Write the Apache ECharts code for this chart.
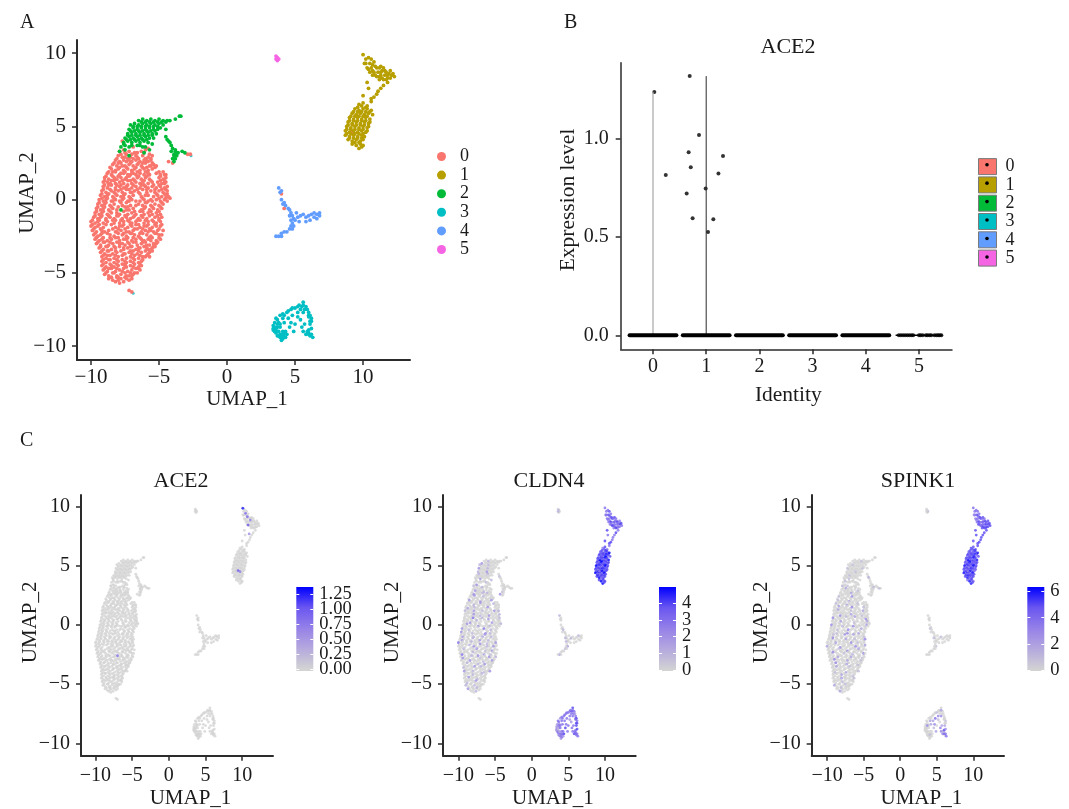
<!DOCTYPE html>
<html><head><meta charset="utf-8">
<style>html,body{margin:0;padding:0;background:#fff}#c{width:1069px;height:809px}</style>
<script src="https://cdn.jsdelivr.net/npm/echarts@6/dist/echarts.min.js"></script>
</head><body><div id="c"></div>
<script>
const clusterNames=['0','1','2','3','4','5'];
const clusterColors=['#F8766D','#B79F00','#00BA38','#00BFC4','#619CFF','#F564E3'];
const umapTicksX=[-10,-5,0,5,10];
const umapTicksY=[-10,-5,0,5,10];
const boxTicksX=[0,1,2,3,4,5];
const boxTicksY=[0,0.5,1];
// UMAP cells, x and y pairs in tenths
const cluster0=[-79,33,-76,34,-72,33,-68,32,-63,33,-60,34,
-80,30,-77,29,-74,31,-71,29,-67,30,-65,28,-62,30,-58,29,-55,30,
-82,27,-79,26,-76,27,-73,28,-70,26,-67,27,-64,26,-61,27,-58,26,-56,27,
-84,24,-81,23,-78,25,-75,23,-72,24,-69,23,-66,24,-63,23,-60,25,-57,23,-54,24,-52,23,
-85,21,-82,20,-79,22,-76,20,-73,21,-70,20,-67,22,-64,20,-61,21,-58,20,-55,21,
-88,18,-85,17,-82,19,-79,17,-76,18,-73,17,-70,19,-67,17,-64,18,-61,17,-58,18,-52,18,-49,17,-46,17,
-90,15,-87,14,-84,16,-81,14,-78,15,-75,14,-72,16,-69,14,-66,15,-63,14,-60,15,-57,14,-50,15,-47,14,-45,15,
-91,12,-88,12,-85,13,-82,11,-79,12,-76,11,-73,13,-70,11,-67,12,-64,11,-61,13,-58,11,-55,12,-51,12,-48,11,-45,12,
-91,9,-88,8,-85,10,-82,8,-79,9,-76,8,-73,10,-70,8,-67,9,-64,8,-61,10,-58,8,-55,9,-52,8,-49,9,-46,8,-44,9,
-92,6,-89,5,-86,7,-83,5,-80,6,-77,5,-74,7,-71,5,-68,6,-65,5,-62,7,-59,5,-56,6,-53,5,-50,6,-47,5,-44,6,
-93,3,-90,2,-87,4,-84,2,-81,3,-78,2,-75,4,-72,2,-69,3,-63,2,-60,3,-54,2,-51,3,-48,2,-45,3,-43,2,-42,1,
-94,0,-91,-1,-88,1,-85,-1,-82,0,-79,-1,-76,1,-73,-1,-70,0,-64,-1,-61,0,-58,-1,-52,0,-49,-1,-46,0,-44,-1,
-95,-3,-92,-4,-89,-2,-86,-4,-83,-3,-77,-4,-74,-2,-71,-4,-65,-3,-62,-4,-59,-2,-56,-4,-53,-3,-50,-4,-47,-3,
-96,-6,-93,-7,-90,-5,-87,-7,-84,-6,-81,-7,-75,-5,-72,-7,-69,-6,-63,-7,-60,-5,-57,-7,-54,-6,-51,-7,-48,-6,
-97,-9,-94,-10,-91,-8,-88,-10,-85,-9,-79,-10,-76,-8,-73,-10,-70,-9,-67,-10,-64,-8,-61,-10,-58,-9,-55,-10,-52,-9,-49,-10,
-98,-12,-95,-13,-92,-11,-89,-13,-86,-12,-83,-13,-80,-11,-77,-13,-74,-12,-71,-13,-68,-11,-65,-13,-62,-12,-59,-13,-53,-12,-50,-13,-48,-12,
-100,-15,-97,-16,-94,-14,-91,-16,-88,-15,-82,-14,-79,-16,-76,-15,-73,-14,-70,-16,-67,-15,-64,-14,-61,-16,-58,-15,-55,-14,-52,-16,-49,-15,
-100,-18,-97,-19,-94,-17,-91,-19,-85,-17,-82,-19,-79,-18,-76,-17,-73,-19,-70,-18,-67,-17,-64,-19,-61,-18,-58,-17,-55,-19,-52,-18,-48,-17,
-99,-21,-96,-22,-93,-20,-90,-22,-84,-20,-81,-22,-78,-21,-75,-20,-72,-22,-69,-21,-66,-20,-63,-22,-60,-21,-57,-20,-54,-22,-51,-21,-47,-21,
-98,-24,-95,-25,-92,-23,-86,-24,-83,-25,-80,-23,-77,-24,-74,-25,-71,-23,-68,-24,-65,-25,-62,-23,-59,-24,-56,-25,-53,-23,-50,-24,-48,-24,
-97,-27,-94,-28,-91,-26,-88,-28,-85,-27,-82,-26,-79,-28,-76,-27,-73,-26,-70,-28,-67,-27,-64,-26,-61,-28,-58,-27,-55,-26,-52,-28,-49,-27,
-96,-30,-93,-31,-90,-29,-87,-31,-84,-30,-81,-29,-75,-31,-72,-30,-69,-29,-66,-31,-63,-30,-60,-29,-57,-31,-54,-30,-51,-29,
-94,-33,-91,-34,-88,-32,-85,-34,-82,-33,-79,-32,-76,-34,-73,-33,-70,-32,-67,-34,-64,-33,-61,-32,-58,-34,-55,-33,-53,-32,
-93,-36,-90,-37,-87,-35,-84,-37,-81,-36,-78,-35,-75,-37,-72,-36,-69,-35,-66,-37,-63,-36,-60,-35,-57,-36,-55,-35,
-92,-39,-89,-40,-86,-38,-83,-40,-80,-39,-77,-38,-74,-40,-71,-39,-68,-38,-65,-40,-62,-39,-59,-38,-57,-39,
-92,-42,-89,-43,-86,-41,-83,-43,-80,-42,-77,-41,-74,-43,-71,-42,-68,-41,-65,-43,-62,-41,
-92,-45,-89,-46,-86,-44,-83,-46,-80,-45,-77,-44,-74,-46,-71,-45,-68,-44,-65,-46,-63,-45,
-91,-48,-88,-49,-85,-47,-82,-49,-79,-48,-76,-47,-73,-49,-70,-48,-67,-47,-64,-48,
-90,-51,-87,-52,-84,-50,-81,-52,-78,-51,-75,-50,-72,-52,-69,-51,-66,-50,
-87,-54,-84,-55,-81,-53,-78,-54,-75,-53,-72,-55,-70,-54,
-82,-56,-79,-57,-76,-56,
-72,-62,-70,-63,-27,31,-29,31,-43,26,-40,25,-77,40,-69,36,-58,35,92,46,40,4,42,-6];
const cluster0More=[-78,31,-75,32,-70,31,-66,32,-61,32,-57,31,
-81,28,-75,29,-72,27,-69,28,-66,29,-60,28,-56,28,
-83,25,-80,25,-74,26,-71,25,-65,25,-62,25,-59,27,-55,25,
-86,22,-80,21,-77,23,-74,22,-68,21,-62,22,-59,22,-56,23,-53,22,
-87,19,-84,19,-78,18,-75,19,-69,18,-66,19,-60,19,-57,17,-50,19,-47,19,
-89,16,-83,15,-80,16,-74,15,-71,17,-65,16,-59,16,-49,16,-45,17,
-90,13,-86,11,-83,13,-77,13,-71,13,-68,13,-62,12,-56,13,-49,13,-46,13,
-90,10,-87,10,-81,10,-78,10,-74,9,-69,10,-63,10,-60,9,-54,10,-50,10,-46,11,
-91,7,-85,6,-82,7,-78,7,-72,7,-66,7,-59,7,-53,7,-48,7,-45,7,
-92,4,-88,3,-82,4,-76,3,-70,5,-64,4,-58,3,-52,4,-46,4,-44,4,
-92,1,-89,0,-83,1,-77,0,-71,1,-62,1,-56,0,-50,1,-45,1,
-94,-2,-90,-3,-84,-1,-78,-2,-72,-1,-67,-1,-60,-2,-55,-1,-48,-2,
-95,-5,-91,-6,-85,-5,-80,-5,-73,-5,-67,-4,-61,-6,-55,-5,-49,-5,
-96,-8,-92,-9,-86,-8,-81,-9,-74,-7,-68,-8,-62,-8,-56,-8,-50,-8,
-97,-11,-93,-12,-87,-11,-81,-11,-75,-11,-69,-12,-63,-11,-57,-11,-51,-11,
-99,-14,-95,-15,-89,-14,-84,-14,-78,-14,-72,-15,-66,-14,-60,-14,-54,-15,-50,-14,
-99,-17,-95,-18,-89,-17,-83,-16,-77,-18,-71,-17,-65,-17,-59,-18,-53,-17,-49,-18,
-98,-20,-92,-21,-87,-21,-80,-20,-74,-22,-68,-20,-62,-20,-56,-21,-50,-20,
-97,-23,-93,-24,-88,-23,-82,-22,-76,-23,-70,-23,-64,-23,-58,-22,-52,-23,
-96,-26,-92,-27,-86,-26,-80,-26,-74,-27,-69,-26,-63,-27,-57,-26,-50,-26,
-95,-29,-91,-29,-86,-29,-79,-30,-73,-29,-67,-29,-62,-29,-56,-28,-52,-30,
-93,-32,-89,-32,-83,-32,-77,-30,-71,-32,-65,-33,-59,-31,-54,-32,
-92,-35,-88,-35,-82,-35,-76,-33,-71,-35,-65,-35,-59,-33,-56,-34,
-91,-38,-88,-38,-82,-38,-76,-37,-70,-37,-64,-38,-58,-37,
-91,-41,-87,-41,-81,-41,-75,-42,-69,-40,-63,-42,-60,-39,
-91,-44,-85,-45,-81,-44,-75,-44,-69,-43,-64,-44,
-90,-47,-87,-47,-81,-47,-75,-45,-69,-46,-65,-47,
-89,-50,-83,-50,-77,-49,-71,-50,-68,-50,
-85,-53,-80,-53,-74,-52,-70,-52,-80,-55,-74,-54];
const cluster1=[100,99,102,96,104,97,101,93,105,93,108,94,103,90,106,90,109,91,112,90,105,87,108,87,111,87,114,88,117,87,107,85,110,84,113,85,116,85,119,86,121,85,123,84,112,82,115,82,118,83,120,83,
118,80,115,78,113,76,111,74,110,72,108,70,106,67,103,80,104,76,100,71,106,69,
97,65,100,66,103,64,94,62,97,61,100,62,103,62,106,61,92,59,95,58,98,59,101,58,104,59,107,58,90,56,93,55,96,56,99,55,102,56,105,55,
89,53,92,52,95,53,98,52,101,53,104,52,88,50,91,49,94,50,97,49,100,50,103,49,87,47,90,46,93,47,96,46,99,47,102,46,
87,44,90,43,93,44,96,43,99,44,101,43,89,41,92,40,95,41,98,40,100,41,92,38,95,37,98,38,100,37,97,35,99,36];
const cluster1More=[102,93,107,92,110,90,104,89,107,88,113,87,116,88,109,85,112,84,118,85,122,86,114,83,117,82,
96,63,99,64,102,63,105,60,93,60,96,60,99,60,102,60,91,57,94,57,97,57,100,57,103,57,90,54,93,54,96,54,99,54,102,54,105,53,89,51,92,51,95,51,98,51,101,51,104,50,88,48,91,48,94,48,97,48,100,48,103,47,88,45,91,45,94,45,97,45,100,45,90,42,93,42,96,42,99,42,94,39,97,39,113,91,115,90,120,88,106,96];
const cluster2=[-65,54,-62,55,-59,54,-56,55,-53,54,-50,55,-47,54,-44,54,-42,54,-38,55,-35,57,-34,57,
-71,51,-68,52,-65,51,-62,52,-59,51,-56,52,-53,51,-50,52,-47,51,
-72,48,-69,49,-66,48,-63,49,-60,48,-57,49,-54,48,-51,48,-49,49,
-73,45,-70,46,-67,45,-64,46,-61,45,-58,46,-55,45,-52,45,
-75,42,-72,43,-69,42,-66,43,-63,42,-60,43,-57,42,-54,42,
-76,39,-73,40,-70,39,-67,40,-64,39,-61,40,-58,39,-55,38,
-78,36,-75,37,-72,36,-66,37,-62,36,-60,36,-57,34,-79,33,-75,34,-72,30,-61,32,-78,-7,
-45,48,-45,43,-44,41,-43,40,-41,37,-40,35,-38,33,-39,31,-37,30,-40,28,-38,28,-36,32,-33,33,-31,32,-39,26,-42,39];
const cluster2More=[-63,53,-60,53,-57,53,-54,53,-51,53,-48,53,-45,53,-69,50,-66,50,-63,50,-60,50,-57,50,-54,50,-51,50,-71,47,-68,47,-65,47,-62,47,-59,47,-56,47,-53,47,-73,44,-70,44,-67,44,-64,44,-61,44,-58,44,-55,44,-74,41,-71,41,-68,41,-65,41,-62,41,-59,41,-76,38,-70,37,-64,37,-38,34,-39,30,-37,32,-41,33];
const cluster3=[56,-70,53,-72,50,-74,47,-75,44,-77,41,-78,39,-79,37,-82,35,-84,36,-81,34,-86,34,-89,36,-88,36,-91,38,-93,38,-90,40,-96,41,-93,43,-94,41,-90,43,-90,39,-87,
58,-73,60,-77,62,-81,61,-85,56,-77,52,-77,48,-79,45,-81,42,-84,46,-87,50,-85,54,-82,57,-85,
56,-90,58,-92,60,-92,62,-92,63,-94,60,-89,62,-88,55,-87,49,-90,44,-92,54,-75,59,-75,52,-80,47,-84,41,-81,
56,-72,60,-80,61,-83,39,-85,37,-85];
const cluster3More=[42,-79,38,-84,37,-87,35,-87,34,-88,35,-90,37,-90,39,-92,39,-94,41,-95,40,-92,42,-92,37,-93,45,-76,48,-74,52,-73,55,-73,57,-75,60,-79,61,-79,62,-83,60,-91,61,-93,59,-90];
const cluster4=[38,8,40,6,39,5,40,0,42,-2,41,-3,43,-4,45,-6,46,-7,47,-9,48,-11,46,-11,49,-13,50,-14,47,-14,48,-16,49,-18,47,-18,46,-20,48,-20,44,-22,42,-22,40,-23,38,-25,36,-25,40,-25,
52,-12,54,-11,56,-10,58,-12,60,-11,62,-10,64,-9,66,-10,68,-9,64,-12,66,-13,68,-11,61,-14,58,-15,53,-15,51,-9];
const cluster5=[36,98,37,97,37,95,38,96,36,96];
// Expression per cell, listed in the order of the cell arrays above
const cldn4Cluster0=[2,0,0,1,0,0,0,2,0,0,0,1,0,0,0,0,2,0,0,0,1,0,1,0,0,0,0,2,0,0,0,1,0,0,0,0,0,2,0,0,0,0,1,0,0,0,0,2,0,0,
0,1,0,0,2,0,0,0,0,1,0,0,0,2,0,0,1,0,0,0,0,0,2,0,0,0,0,1,0,0,0,2,0,0,0,1,0,0,0,0,2,0,1,0,0,0,0,2,0,0,
1,0,0,0,2,0,0,0,0,1,0,0,0,0,3,0,0,0,1,0,0,2,0,0,0,0,1,0,0,0,2,0,0,1,0,0,0,0,2,0,0,0,0,1,0,0,2,0,0,0,
0,2,0,0,0,1,0,0,0,0,2,0,0,1,0,0,0,0,3,0,0,1,0,0,0,2,0,0,0,0,1,0,0,0,2,0,1,0,0,0,0,2,0,0,0,1,0,0,0,2,
2,0,0,1,0,0,0,2,0,0,0,0,1,0,0,2,0,0,0,1,0,0,0,3,0,0,0,0,1,0,0,0,2,0,0,1,0,0,0,2,0,0,0,0,1,0,2,0,0,0,
0,0,1,0,0,2,0,0,0,1,0,0,0,0,2,0,0,0,1,0,0,2,0,0,0,3,0,0,0,1,0,0,0,0,2,0,0,1,0,0,0,0,2,0,0,0,1,0,0,2,
1,0,0,0,2,0,0,1,0,0,0,0,2,0,0,0,0,1,0,0,0,2,0,0,0,1,0,0,0,0,1,0,0,2,0,0,0,0,1,0,0,0,0,2,0,0,1,0,0,0,
0,0,2,0,0,0,1,0,0,0,0,1,0,0,2,0,0,0,0,1,0,0,0,1,0,0,0,0,2,0,0,0,1,0,0,0,0,0,1,0,0,0,2,0,0,0,0,1,0,0,
0,1,0,0,0,0,2,0,0,0,1,0,0,0,0,1,0,0,0,0,2,0,0,0,0,1,0,0,0,0,1,0,0,2,0,0,0,0,1,0,0,0,0,1,0,0,0,0,2,0,
0,0,1,0,0,0,0,2,0,0,0,0,1,0,0,0,1,0,0,0,0,2,0,0,0,1,0,0,0,0];
const cldn4Cluster1=[3,3,3,3,4,3,3,3,4,3,3,4,3,3,4,3,4,3,3,3,4,3,3,4,3,3,3,4,3,3,3,
4,3,4,3,4,4,3,4,3,4,4,
4,4,5,4,4,4,5,4,4,4,5,4,4,4,5,4,4,5,4,4,4,5,4,4,4,5,4,4,4,4,5,4,4,5,4,4,4,5,4,4,5,4,4,4,4,5,4,4,5,4,3,4,4,4,3,4,4,3,3,3,4,3];
const cldn4Cluster1More=[3,3,4,3,3,4,3,3,4,3,4,3,3,4,4,5,4,4,4,4,5,4,4,4,5,4,4,4,5,4,4,4,4,5,4,4,5,4,4,4,4,5,4,4,4,5,4,4,4,5,4,4,4,3,4,4,3,3,4];
const cldn4Cluster2=[0,0,1,0,0,0,0,0,0,0,0,0,1,2,0,0,1,0,0,0,0,2,0,0,0,1,0,0,0,0,1,0,0,0,2,0,0,0,0,1,0,0,0,1,0,0,0,0,2,0,0,0,0,1,0,0,0,0,1,0,0,0,2,0,0,0,0,0,1,0,0,0,0,0,0,1,0,0,0,0,0,0,0,0];
const cldn4Cluster3=[4,3,3,3,3,3,2,3,2,3,2,2,1,3,2,1,2,3,2,3,3,3,3,3,
3,4,3,3,3,3,3,4,3,2,3,3,4,3,3,3,3,4,3,3,4,3,2,2,3,3,3,3,4,3,3,3,3,2,2];
const cldn4Cluster3More=[3,2,2,1,2,2,3,3,3,3,3,2,3,3,3,3,4,3,3,4,3,3,3,3,3];
const cldn4Cluster4=[1,0,0,0,0,0,1,0,0,0,0,1,0,0,1,0,2,0,1,0,0,0,0,2,0,0,0,1,0,0,0,0,1,0,0,0,0,0];
const cldn4Cluster5=[0,1,0,0,1];
const spink1Cluster0=[0,0,1,0,0,0,0,0,2,0,0,0,0,1,0,0,0,0,0,0,2,0,0,0,0,1,0,0,0,0,0,3,0,0,0,0,0,1,0,0,0,0,2,0,0,0,0,0,1,0,
0,0,0,2,0,0,0,0,1,0,0,0,0,0,2,0,0,0,0,0,3,0,0,0,1,0,0,0,0,2,0,0,0,0,0,1,0,0,0,0,2,0,0,0,0,0,3,0,0,0,
0,2,0,0,0,0,1,0,0,0,3,0,0,0,0,0,1,0,0,0,2,0,0,0,0,3,0,0,0,0,0,2,0,0,0,0,1,0,0,0,0,2,0,0,3,0,0,0,0,1,
0,0,0,3,0,0,0,0,2,0,0,0,0,1,0,0,0,3,0,0,0,0,2,0,0,0,0,0,1,0,0,0,3,0,0,0,2,0,0,0,0,0,1,0,0,0,3,0,0,0,
2,0,0,0,0,1,0,0,3,0,0,0,0,0,2,0,0,0,1,0,0,0,3,0,0,0,0,2,0,0,0,0,0,3,0,0,1,0,0,0,2,0,0,0,0,3,0,0,0,0,
0,0,3,0,0,0,2,0,0,0,0,1,0,0,0,3,0,0,0,0,2,0,0,0,0,0,3,0,0,0,1,0,0,0,2,0,0,0,0,3,0,0,0,0,0,2,0,0,0,0,
0,2,0,0,0,0,1,0,0,0,3,0,0,0,0,2,0,0,0,0,0,1,0,0,0,3,0,0,0,0,2,0,0,0,0,1,0,0,0,0,2,0,0,0,0,0,1,0,0,0,
0,0,0,1,0,0,0,0,2,0,0,0,0,0,1,0,0,0,0,2,0,0,0,0,1,0,0,0,0,0,2,0,0,0,0,0,1,0,0,0,0,1,0,0,0,0,0,2,0,0,
0,0,1,0,0,0,0,0,1,0,0,0,0,2,0,0,0,0,0,1,0,0,0,0,0,1,0,0,0,0,2,0,0,0,0,1,0,0,0,0,0,1,0,0,0,0,0,1,0,0,
0,0,0,0,1,0,0,0,0,0,2,0,0,0,0,0,0,1,0,0,0,0,0,1,0,0,0,0,0,0];
const spink1Cluster1=[4,4,4,3,5,4,3,4,5,4,4,5,4,4,5,5,4,4,5,4,5,5,5,5,5,5,5,5,5,5,5,
5,5,5,5,5,5,5,5,5,5,5,
5,5,6,5,5,5,6,4,5,5,6,5,5,5,6,5,5,6,5,5,5,6,5,5,5,6,5,5,5,5,6,5,4,6,5,5,5,6,5,5,6,5,5,5,4,6,5,4,6,5,4,5,5,5,4,5,5,4,4,4,5,4];
const spink1Cluster1More=[4,4,5,4,4,5,5,4,5,5,5,5,5,5,5,6,5,5,5,5,6,5,5,5,6,5,4,5,6,5,5,5,5,6,5,5,6,5,5,5,4,6,5,5,5,6,5,4,5,5,6,5,5,4,5,5,4,5,4];
const spink1Cluster2=[0,0,0,0,1,0,0,0,0,0,0,0,0,0,1,0,0,0,0,0,0,1,0,0,0,0,0,0,1,0,0,0,0,0,1,0,0,0,0,0,1,0,0,0,0,0,0,0,1,0,0,0,0,0,0,1,0,0,0,0,0,1,0,0,0,0,0,0,0,2,0,0,0,0,0,0,0,1,0,0,0,0,0,0];
const spink1Cluster3=[0,0,1,0,0,0,0,0,0,0,0,0,0,0,0,0,0,1,0,0,0,0,0,0,
1,2,3,3,4,2,2,1,0,0,2,3,3,
4,4,4,5,3,3,2,0,0,0,1,3,2,2,0,0,0,3,3,0,0];
const spink1Cluster4=[0,0,0,0,0,1,0,0,0,0,0,1,0,0,0,0,1,0,0,0,0,0,0,0,0,0,0,0,1,0,0,0,0,0,0,0,0,0];
const spink1Cluster5=[0,0,0,1,0];
// ACE2 positive cells: x, y, level
const ace2Positive=[[10.1,9.86,1.3],[10.45,9.44,0.9],[10.7,9.15,0.85],[11.1,8.87,0.75],[10.8,8.45,1.0],[10.95,7.7,0.6],[9.45,4.6,1.0],[9.7,4.5,0.7],[-7,-2.6,0.8]];
// Violin panel
const violinTop0=1.235, violinTop1=1.316;
const jitterPoints=[[0.025,1.235],[0.24,0.814],[0.69,1.316],[0.865,1.017],[0.67,0.929],[0.71,0.853],[1.316,0.91],[1.23,0.822],[0.99,0.745],[0.633,0.72],[0.745,0.594],[1.134,0.589],[1.034,0.525]];
const zeroRuns=[[-0.44,0.44],[0.56,1.44],[1.56,2.44],[2.56,3.44],[3.56,4.44]];
const cluster5ZeroThin=[4.56,5.44];
const cluster5ZeroPoints=[4.62,4.66,4.7,4.74,4.78,4.82,4.86,4.89,5.0,5.03,5.07,5.13,5.16,5.2,5.23,5.29,5.33,5.36,5.39,5.42];
const ace2BarTicks=[0,0.25,0.5,0.75,1,1.25];
const cldn4BarTicks=[0,1,2,3,4];
const spink1BarTicks=[0,2,4,6];
const exprColors=['#D3D3D3','#B5A9DE','#9581E8','#6A56F0','#0000FF'];

const serif='"Liberation Serif","Times New Roman",serif';
const ink='#1a1a1a', axisInk='#2b2b2b';
const pairs=a=>{const o=[];for(let i=0;i+1<a.length;i+=2)o.push([a[i]/10,a[i+1]/10]);return o;};
const allClusters=[cluster0,cluster1,cluster2,cluster3,cluster4,cluster5].map(pairs);
const allExtras=[cluster0More,cluster1More,cluster2More,cluster3More,[],[]].map(pairs);
const minusFmt=v=>String(v).replace('-','\u2212');

const grids=[],xAxes=[],yAxes=[],series=[],titles=[],visualMaps=[];
function umapAxes(g,cfg){
  grids.push({left:g.left,top:g.top,width:g.width,height:g.height,outerBoundsMode:'none'});
  const gi=grids.length-1;
  const base=(ticks,margin)=>({
    axisLine:{show:true,onZero:false,lineStyle:{color:axisInk,width:2}},
    axisTick:{show:true,length:5,lineStyle:{color:axisInk,width:1.5},customValues:ticks},
    axisLabel:{fontFamily:serif,fontSize:cfg.tickSize,color:ink,margin:margin,customValues:ticks,formatter:minusFmt,showMinLabel:true,showMaxLabel:true},
    splitLine:{show:false}});
  xAxes.push(Object.assign(base(umapTicksX,cfg.xMargin),{type:'value',gridIndex:gi,min:g.xMin,max:g.xMax,name:'UMAP_1',nameLocation:'middle',nameGap:cfg.xGap,nameMoveOverlap:false,nameTextStyle:{fontFamily:serif,fontSize:21,color:ink,padding:[0,0,0,cfg.xShift]}}));
  yAxes.push(Object.assign(base(umapTicksY,11),{type:'value',gridIndex:gi,min:g.yMin,max:g.yMax,name:'UMAP_2',nameLocation:'middle',nameGap:cfg.yGap,nameMoveOverlap:false,nameTextStyle:{fontFamily:serif,fontSize:21,color:ink,padding:[0,0,0,cfg.yShift]}}));
  return {x:xAxes.length-1,y:yAxes.length-1};
}
// Panel A
const axA=umapAxes({left:77,top:40,width:333,height:320,xMin:-11.03,xMax:13.45,yMin:-10.95,yMax:10.9},{tickSize:21,xGap:29,yGap:39,xMargin:7,xShift:7,yShift:14});
clusterNames.forEach((n,i)=>series.push({type:'scatter',name:n,xAxisIndex:axA.x,yAxisIndex:axA.y,symbolSize:3.8,data:allExtras[i].concat(allClusters[i]),itemStyle:{color:clusterColors[i],opacity:1},z:i===3?4:3,silent:true}));
series.push({type:'scatter',name:'stray3',xAxisIndex:axA.x,yAxisIndex:axA.y,symbolSize:3,data:[[-2.65,3.0],[-6.9,-6.4]],itemStyle:{color:clusterColors[3]},silent:true});

// Panel B
grids.push({left:620.7,top:62.7,width:331.3,height:286.6,outerBoundsMode:'none'});
xAxes.push({type:'value',gridIndex:1,min:-0.607,max:5.62,name:'Identity',nameLocation:'middle',nameGap:35,nameTextStyle:{fontFamily:serif,fontSize:21.5,color:ink,padding:[0,0,0,4]},
  axisLine:{show:true,onZero:false,lineStyle:{color:axisInk,width:1.5}},axisTick:{show:true,length:5,lineStyle:{color:axisInk,width:1.5},customValues:boxTicksX},
  axisLabel:{fontFamily:serif,fontSize:20,color:ink,margin:7,customValues:boxTicksX,showMinLabel:true,showMaxLabel:true},splitLine:{show:false}});
yAxes.push({type:'value',gridIndex:1,min:-0.071,max:1.384,name:'Expression level',nameLocation:'middle',nameGap:40,nameTextStyle:{fontFamily:serif,fontSize:21.5,color:ink,padding:[0,0,0,12]},
  axisLine:{show:true,onZero:false,lineStyle:{color:axisInk,width:1.5}},axisTick:{show:true,length:5,lineStyle:{color:axisInk,width:1.5},customValues:boxTicksY},
  axisLabel:{fontFamily:serif,fontSize:20,color:ink,margin:12,customValues:boxTicksY,formatter:v=>v.toFixed(1),showMinLabel:true,showMaxLabel:true},splitLine:{show:false}});
const axB={x:xAxes.length-1,y:yAxes.length-1};
const lineBase={type:'line',xAxisIndex:axB.x,yAxisIndex:axB.y,symbol:'none',silent:true};
series.push(Object.assign({},lineBase,{name:'violin0',data:[[0,0],[0,violinTop0]],lineStyle:{color:'#a8a8a8',width:1.2}}));
series.push(Object.assign({},lineBase,{name:'violin1',data:[[1,0],[1,violinTop1]],lineStyle:{color:'#2a2a2a',width:1}}));
zeroRuns.forEach((r,i)=>series.push(Object.assign({},lineBase,{name:'zero'+i,data:[[r[0],0],[r[1],0]],lineStyle:{color:'#000',width:4,cap:'round'}})));
series.push(Object.assign({},lineBase,{name:'zero5',data:cluster5ZeroThin.map(x=>[x,0]),lineStyle:{color:'#000',width:1.4}}));
series.push({type:'scatter',name:'zero5pts',xAxisIndex:axB.x,yAxisIndex:axB.y,symbolSize:4,data:cluster5ZeroPoints.map(x=>[x,0]),itemStyle:{color:'#000'},silent:true});
series.push({type:'scatter',name:'jitter',xAxisIndex:axB.x,yAxisIndex:axB.y,symbolSize:4,data:jitterPoints,itemStyle:{color:'#000'},silent:true});

// Panel C
function genePanel(cfg){
  const ax=umapAxes({left:cfg.left,top:495,width:cfg.width,height:260.7,xMin:cfg.xMin,xMax:cfg.xMax,yMin:-11.05,yMax:10.99},{tickSize:20,xGap:32,yGap:40,xMargin:10,xShift:27,yShift:6});
  const d=[];
  allExtras.forEach((pts,c)=>pts.forEach((p,i)=>d.push([p[0],p[1],(cfg.more[c]&&cfg.more[c][i])||0])));
  allClusters.forEach((pts,c)=>pts.forEach((p,i)=>d.push([p[0],p[1],(cfg.values[c]&&cfg.values[c][i])||0])));
  (cfg.extra||[]).forEach(p=>d.push(p));
  series.push({type:'scatter',name:cfg.gene,xAxisIndex:ax.x,yAxisIndex:ax.y,symbolSize:2.8,data:d,silent:true});
  visualMaps.push({show:false,type:'continuous',seriesIndex:series.length-1,dimension:2,min:0,max:cfg.barMax,inRange:{color:exprColors}});
  titles.push({text:cfg.gene,left:cfg.titleX,top:470,padding:0,textAlign:'center',textStyle:{fontFamily:serif,fontSize:22,fontWeight:'normal',color:ink}});
  // colour bar: two stacked grids so that every label of the tight scale stays visible
  const evenTicks=cfg.ticks.filter((t,i)=>i%2===0), oddTicks=cfg.ticks.filter((t,i)=>i%2===1);
  const labelStyle=vals=>({fontFamily:serif,fontSize:18.5,color:ink,margin:6,customValues:vals,formatter:cfg.fmt,showMinLabel:true,showMaxLabel:true});
  const whiteTicks={show:true,inside:true,length:3,lineStyle:{color:'#fff',width:1},customValues:cfg.ticks};
  grids.push({left:cfg.barX,top:587,width:17,height:84,outerBoundsMode:'none'});
  const bi=grids.length-1;
  xAxes.push({type:'category',gridIndex:bi,data:['bar'],show:false});
  const bx=xAxes.length-1;
  const yBase={type:'value',gridIndex:bi,min:cfg.barMin,max:cfg.barMax,z:6,axisLine:{show:false},splitLine:{show:false}};
  yAxes.push(Object.assign({},yBase,{position:'right',axisTick:whiteTicks,axisLabel:labelStyle(evenTicks)}));
  const byRight=yAxes.length-1;
  yAxes.push(Object.assign({},yBase,{position:'left',axisTick:whiteTicks,axisLabel:{show:false}}));
  const byLeft=yAxes.length-1;
  series.push({type:'bar',name:cfg.gene+' scale',xAxisIndex:bx,yAxisIndex:byRight,barWidth:'100%',data:[cfg.barMax],silent:true,
    itemStyle:{color:{type:'linear',x:0,y:0,x2:0,y2:1,colorStops:exprColors.slice().reverse().map((c,i)=>({offset:i/4,color:c}))}}});
  series.push({type:'bar',name:cfg.gene+' scale low',xAxisIndex:bx,yAxisIndex:byLeft,barWidth:'100%',barGap:'-100%',data:[cfg.barMin],silent:true,itemStyle:{color:exprColors[0]}});
  grids.push({left:cfg.barX,top:587,width:17,height:84,outerBoundsMode:'none'});
  const bj=grids.length-1;
  xAxes.push({type:'category',gridIndex:bj,data:['bar'],show:false});
  yAxes.push({type:'value',gridIndex:bj,min:cfg.barMin,max:cfg.barMax,position:'right',axisLine:{show:false},axisTick:{show:false},splitLine:{show:false},axisLabel:labelStyle(oddTicks)});
  series.push({type:'bar',name:cfg.gene+' scale labels',xAxisIndex:xAxes.length-1,yAxisIndex:yAxes.length-1,data:[null],silent:true});
}
genePanel({gene:'ACE2',left:81,width:192,xMin:-11.97,xMax:14.2,titleX:181,barX:296.3,barMin:-0.033,barMax:1.367,ticks:ace2BarTicks,fmt:v=>v.toFixed(2),values:[],more:[],extra:ace2Positive});
genePanel({gene:'CLDN4',left:443,width:192.7,xMin:-12.1,xMax:14.2,titleX:549,barX:659,barMin:-0.06,barMax:4.96,ticks:cldn4BarTicks,fmt:v=>String(v),values:[cldn4Cluster0,cldn4Cluster1,cldn4Cluster2,cldn4Cluster3,cldn4Cluster4,cldn4Cluster5],more:[[],cldn4Cluster1More,[],cldn4Cluster3More]});
genePanel({gene:'SPINK1',left:811.7,width:192.3,xMin:-12.1,xMax:14.2,titleX:918,barX:1027.3,barMin:-0.08,barMax:6.35,ticks:spink1BarTicks,fmt:v=>String(v),values:[spink1Cluster0,spink1Cluster1,spink1Cluster2,spink1Cluster3,spink1Cluster4,spink1Cluster5],more:[[],spink1Cluster1More]});

titles.push({text:'ACE2',left:788,top:36,padding:0,textAlign:'center',textStyle:{fontFamily:serif,fontSize:22,fontWeight:'normal',color:ink}});
[['A',20,13],['B',564,13],['C',20,431]].forEach(t=>titles.push({text:t[0],left:t[1],top:t[2],padding:0,textStyle:{fontFamily:serif,fontSize:20,fontWeight:'normal',color:ink}}));

const boxKeyDots=clusterNames.map((n,i)=>({type:'circle',shape:{cx:987,cy:164.7+i*18.45,r:1.8},style:{fill:'#000'},z:100,silent:true}));

const chart=echarts.init(document.getElementById('c'),null,{renderer:'canvas'});
chart.setOption({
  animation:false,backgroundColor:'#fff',
  title:titles,grid:grids,xAxis:xAxes,yAxis:yAxes,series:series,visualMap:visualMaps,
  legend:[
    {left:437,top:147.5,padding:0,orient:'vertical',icon:'circle',itemWidth:9,itemHeight:9,itemGap:0.6,selectedMode:false,data:clusterNames,
     textStyle:{fontFamily:serif,fontSize:18,color:ink,lineHeight:18,padding:[0,0,0,9]}},
    {left:978,top:157.6,padding:0,orient:'vertical',icon:'rect',itemWidth:18,itemHeight:16,itemGap:0.3,selectedMode:false,
     data:clusterNames.map((n,i)=>({name:n,itemStyle:{color:clusterColors[i],borderColor:'#7a7a7a',borderWidth:1}})),
     textStyle:{fontFamily:serif,fontSize:18,color:ink,lineHeight:16,padding:[0,0,0,4]}}
  ],
  graphic:boxKeyDots
});
</script></body></html>
